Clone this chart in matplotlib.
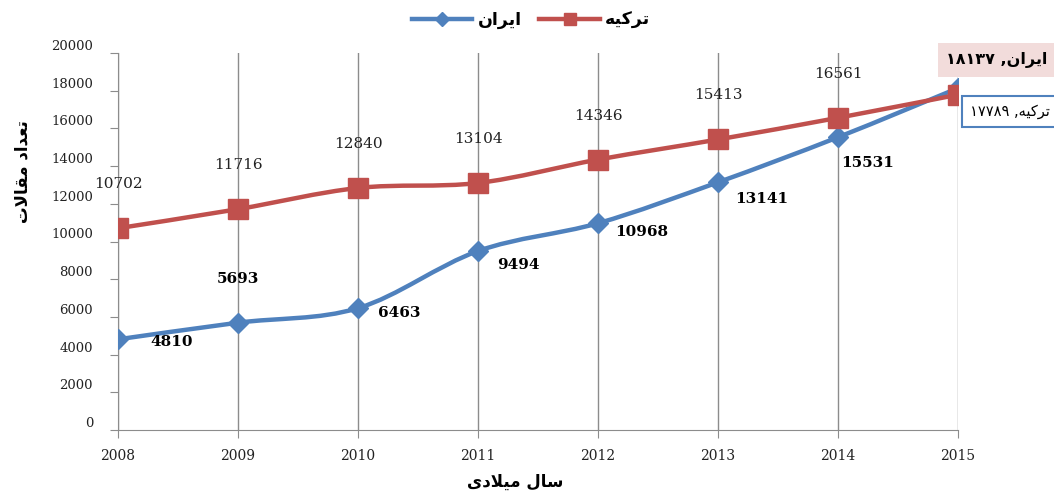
"""Iran vs Turkey article counts 2008-2015"""
import matplotlib.pyplot as plt
import numpy as np
from matplotlib.lines import Line2D
from matplotlib.path import Path
from matplotlib.patches import PathPatch

years = [2008, 2009, 2010, 2011, 2012, 2013, 2014, 2015]
iran = [4810, 5693, 6463, 9494, 10968, 13141, 15531, 18137]
turkey = [10702, 11716, 12840, 13104, 14346, 15413, 16561, 17789]

# Persian text, pre-shaped (presentation forms, visual order)
IRAN = "\uFEE5\uFE8D\uFEAE\uFEF3\uFE8D"
TURKEY = "\uFEEA\uFEF4\uFB90\uFEAE\uFE97"
YLABEL = "\uFE95\uFEFB\uFE8E\uFED8\uFEE3 \uFEA9\uFE8D\uFEAA\uFECC\uFE97"
XLABEL = "\uFEEF\uFEA9\uFEFC\uFEF4\uFEE3 \uFEDD\uFE8E\uFEB3"
IRAN_LAST = "\u06F1\u06F8\u06F1\u06F3\u06F7 ," + IRAN
TURKEY_LAST = "\u06F1\u06F7\u06F7\u06F8\u06F9 ," + TURKEY

BLUE = "#4F81BD"
RED = "#C0504D"
AR = ["DejaVu Sans"]
NUM = ["DejaVu Serif"]


def smooth_path(x, y):
    # excel-like smoothed line: cubic bezier through the points
    pts = np.column_stack([x, y]).astype(float)
    p = np.vstack([pts[0], pts, pts[-1]])
    verts = [pts[0]]
    codes = [Path.MOVETO]
    for i in range(1, len(p) - 2):
        c1 = p[i] + (p[i + 1] - p[i - 1]) / 6
        c2 = p[i + 1] - (p[i + 2] - p[i]) / 6
        verts += [c1, c2, p[i + 1]]
        codes += [Path.CURVE4] * 3
    return Path(verts, codes)


fig = plt.figure(figsize=(10.54, 4.92), dpi=100)
ax = fig.add_axes([118 / 1054, 62 / 492, 840 / 1054, 377 / 492])

# iran first, turkey drawn on top
ax.add_patch(PathPatch(smooth_path(years, iran), fill=False, edgecolor=BLUE,
                       linewidth=3.2, transform=ax.transData, zorder=3))
ax.plot(years, iran, linestyle="none", marker="D", markersize=10.5,
        color=BLUE, zorder=4)
ax.add_patch(PathPatch(smooth_path(years, turkey), fill=False, edgecolor=RED,
                       linewidth=3.2, transform=ax.transData, zorder=5))
ax.plot(years, turkey, linestyle="none", marker="s", markersize=14.5,
        color=RED, zorder=6)

ax.set_xlim(2008, 2015)
ax.set_ylim(0, 20000)
ax.set_xticks(years)
ax.set_yticks(np.arange(0, 20001, 2000))
ax.xaxis.grid(True, color="#8c8c8c", linewidth=1)
for s in ["top", "right"]:
    ax.spines[s].set_visible(False)
for s in ["left", "bottom"]:
    ax.spines[s].set_color("#8c8c8c")
ax.tick_params(axis="y", length=6, color="#8c8c8c", pad=12, labelsize=9.5,
               labelcolor="#222222")
ax.tick_params(axis="x", length=6, color="#8c8c8c", pad=8, labelsize=10,
               labelcolor="#222222")
for t in ax.get_yticklabels() + ax.get_xticklabels():
    t.set_family(NUM)
for t in ax.get_yticklabels():
    t.set_va("bottom")

# data labels (the 2015 values get boxed labels below)
for x, v in zip(years[:-1], turkey[:-1]):
    ax.annotate(str(v), (x, v), xytext=(0, 44), textcoords="offset pixels",
                ha="center", va="center", fontsize=11, family=NUM,
                color="#222222", zorder=7)
iran_off = [(54, -3), (0, 44), (41, -5), (40, -14), (44, -9), (44, -17), (30, -26)]
for (x, v), (dx, dy) in zip(zip(years[:-1], iran[:-1]), iran_off):
    ax.annotate(str(v), (x, v), xytext=(dx, dy), textcoords="offset pixels",
                ha="center", va="center", fontsize=11, family=NUM,
                fontweight="bold", color="black", zorder=7)

ax.annotate(IRAN_LAST, (years[-1], iran[-1]), xytext=(39, 28),
            textcoords="offset pixels", ha="center", va="center",
            fontsize=11.5, family=AR, fontweight="bold", annotation_clip=False,
            zorder=8,
            bbox=dict(boxstyle="square,pad=0.55", facecolor="#F2DCDB",
                      edgecolor="none"))
ax.annotate(TURKEY_LAST, (years[-1], turkey[-1]), xytext=(52, -17),
            textcoords="offset pixels", ha="center", va="center",
            fontsize=10.5, family=AR, annotation_clip=False, zorder=8,
            bbox=dict(boxstyle="square,pad=0.55", facecolor="white",
                      edgecolor=BLUE, linewidth=1.5))

fig.text(22 / 1054, 1 - 172 / 492, YLABEL, rotation=90, ha="center",
         va="center", fontsize=12, fontweight="bold", family=AR)
fig.text(515 / 1054, 1 - 482 / 492, XLABEL, ha="center", va="center",
         fontsize=12, fontweight="bold", family=AR)

handles = [
    Line2D([], [], color=BLUE, linewidth=3.2, marker="D", markersize=7),
    Line2D([], [], color=RED, linewidth=3.2, marker="s", markersize=9),
]
fig.legend(handles, [IRAN, TURKEY], loc="center",
           bbox_to_anchor=(531 / 1054, 1 - 20 / 492),
           ncol=2, frameon=False, handlelength=3.5, columnspacing=1.0,
           handletextpad=0.3, prop=dict(family=AR, weight="bold", size=12.5))

plt.savefig("out.png", dpi=100)
